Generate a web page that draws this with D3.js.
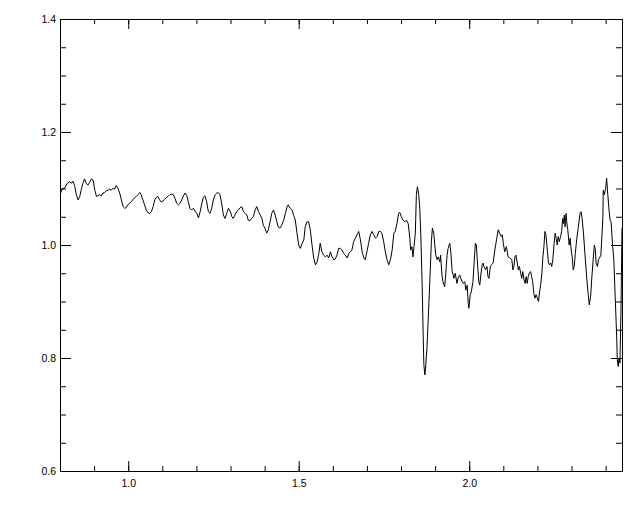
<!DOCTYPE html>
<html><head><meta charset="utf-8">
<script src="https://cdn.jsdelivr.net/npm/d3@7"></script>
<style>body{margin:0;background:#fff}svg{display:block}</style>
</head><body>
<script>
const wavelength = [0.802,0.806,0.814,0.821,0.828,0.833,0.838,0.843,0.848,0.853,0.858,0.863,0.867,0.872,0.877,0.882,0.887,0.892,0.897,0.902,0.907,0.911,0.916,0.921,0.926,0.931,0.936,0.941,0.946,0.950,0.955,0.960,0.965,0.970,0.975,0.980,0.985,0.990,0.994,0.999,1.004,1.009,1.014,1.019,1.024,1.029,1.034,1.038,1.043,1.048,1.053,1.058,1.063,1.068,1.073,1.078,1.082,1.087,1.092,1.097,1.102,1.107,1.112,1.117,1.122,1.126,1.131,
1.137,1.142,1.147,1.152,1.157,1.162,1.167,1.172,1.176,1.181,1.186,1.191,1.196,1.201,1.206,1.211,1.216,1.220,1.225,1.230,1.235,1.240,1.245,1.250,1.255,1.260,1.264,1.269,1.274,1.279,1.284,1.289,1.294,1.299,1.304,1.308,1.313,1.318,1.323,1.328,1.333,1.338,1.343,1.348,1.352,1.357,1.362,1.367,1.372,1.377,1.382,1.387,1.392,1.396,1.401,1.406,1.411,1.416,1.421,1.426,1.431,1.436,1.440,1.445,1.450,
1.456,1.461,1.466,1.469,1.475,1.480,1.485,1.490,1.495,1.500,1.505,1.510,1.515,1.519,1.524,1.529,1.534,1.539,1.544,1.549,1.554,1.559,1.563,1.568,1.573,1.578,1.583,1.588,1.593,1.598,1.603,1.607,1.612,1.617,1.622,1.627,1.632,1.637,1.642,1.647,1.651,1.656,1.661,1.666,1.671,1.676,1.681,1.686,1.691,1.695,1.700,1.705,1.710,1.715,1.720,1.725,1.730,1.735,1.739,1.744,1.749,1.754,1.759,1.764,1.769,1.774,1.779,1.783,1.788,1.793,
1.796,1.801,1.806,1.811,1.816,1.821,1.826,1.828,1.832,1.835,1.838,1.842,1.845,1.848,1.852,1.855,1.858,1.862,1.865,1.867,1.870,1.872,1.876,1.879,1.884,1.889,1.892,1.896,1.899,1.902,1.906,1.909,1.914,1.916,1.920,1.923,1.928,1.931,1.935,1.938,1.943,1.946,1.950,1.953,1.955,1.959,1.964,1.967,1.972,1.977,1.982,1.987,1.990,1.994,1.997,1.999,2.003,2.006,2.011,2.014,2.018,2.021,2.024,2.028,2.031,2.034,2.038,2.041,2.043,2.048,2.052,2.055,2.058,2.062,2.065,2.070,2.075,2.080,2.085,2.089,2.094,2.097,2.100,2.104,2.109,2.114,2.119,
2.125,2.128,2.131,2.134,2.137,2.141,2.144,2.147,2.151,2.154,2.157,2.161,2.164,2.167,2.170,2.173,2.176,2.180,2.183,2.186,2.190,2.193,2.196,2.200,2.203,2.206,2.210,2.213,2.216,2.219,2.222,2.225,2.229,2.232,2.235,2.239,2.242,2.245,2.249,2.252,2.255,2.258,2.261,2.264,2.268,2.271,2.274,2.276,2.279,2.281,2.284,2.286,2.289,2.293,2.296,2.299,2.302,2.305,2.308,2.311,2.315,2.320,2.325,2.328,2.331,2.335,2.340,2.345,2.349,2.352,2.356,2.359,2.364,2.367,2.370,2.372,2.376,2.379,2.382,2.386,2.389,2.392,2.393,2.396,2.400,2.403,2.406,2.410,2.413,2.416,2.420,2.424,2.428,2.431,2.433,2.434,2.437,2.439,2.442,2.445,2.448];
const flux = [1.092,1.099,1.101,1.109,1.112,1.109,1.113,1.105,1.089,1.080,1.086,1.100,1.109,1.117,1.109,1.106,1.111,1.117,1.115,1.097,1.086,1.087,1.089,1.087,1.092,1.093,1.096,1.097,1.099,1.097,1.100,1.099,1.105,1.100,1.092,1.080,1.068,1.065,1.066,1.071,1.074,1.077,1.080,1.084,1.086,1.089,1.093,1.089,1.080,1.071,1.062,1.057,1.056,1.059,1.068,1.080,1.084,1.086,1.080,1.076,1.078,1.081,1.084,1.086,1.089,1.090,1.090,
1.083,1.074,1.071,1.074,1.080,1.087,1.092,1.087,1.077,1.065,1.062,1.065,1.060,1.056,1.048,1.059,1.074,1.084,1.087,1.077,1.059,1.056,1.065,1.081,1.089,1.092,1.093,1.089,1.074,1.053,1.047,1.056,1.065,1.060,1.050,1.047,1.053,1.059,1.062,1.066,1.068,1.059,1.056,1.053,1.044,1.043,1.047,1.050,1.062,1.068,1.059,1.053,1.047,1.035,1.030,1.021,1.027,1.041,1.056,1.062,1.053,1.041,1.032,1.030,1.035,
1.044,1.056,1.068,1.071,1.065,1.062,1.053,1.044,1.021,1.000,0.994,1.003,1.009,1.032,1.041,1.041,1.027,1.000,0.977,0.965,0.970,0.985,1.003,0.988,0.982,0.979,0.982,0.977,0.988,0.979,0.974,0.975,0.982,0.994,0.994,0.991,0.985,0.982,0.977,0.985,0.988,0.991,1.006,1.012,1.018,1.024,1.009,0.988,0.977,0.974,0.988,1.003,1.018,1.024,1.018,1.012,1.015,1.024,1.024,1.021,1.006,0.988,0.974,0.965,0.974,0.991,1.021,1.024,1.038,1.056,
1.058,1.050,1.044,1.041,1.044,1.038,1.012,0.991,0.997,0.979,0.997,1.021,1.089,1.103,1.089,1.065,1.018,0.929,0.841,0.788,0.770,0.782,0.817,0.858,0.929,1.006,1.030,1.021,1.000,0.982,0.974,0.979,0.970,0.982,0.947,0.935,0.926,0.947,0.982,0.994,1.003,0.988,0.953,0.947,0.941,0.950,0.932,0.941,0.947,0.938,0.932,0.935,0.920,0.929,0.897,0.888,0.912,0.917,0.935,0.965,1.003,1.000,0.970,0.935,0.929,0.947,0.965,0.968,0.962,0.956,0.962,0.944,0.941,0.962,0.965,0.968,0.991,1.009,1.027,1.021,1.015,1.018,1.003,0.988,0.997,0.979,0.977,
0.974,0.956,0.962,0.979,0.982,0.968,0.956,0.962,0.950,0.941,0.953,0.938,0.932,0.944,0.932,0.944,0.950,0.953,0.944,0.935,0.912,0.906,0.912,0.906,0.900,0.915,0.932,0.950,0.979,0.997,1.024,1.018,0.991,0.970,0.965,0.968,0.962,0.974,1.003,1.021,1.012,1.000,1.015,1.006,1.015,1.024,1.047,1.038,1.053,1.032,1.056,1.041,1.027,1.000,1.012,0.991,0.979,0.956,0.962,0.985,1.009,1.032,1.056,1.059,1.047,1.021,0.979,0.938,0.912,0.894,0.909,0.938,0.979,1.000,0.991,0.968,0.962,0.974,0.977,0.982,1.015,1.050,1.097,1.089,1.100,1.118,1.092,1.062,1.044,1.041,1.003,0.974,0.909,0.861,0.826,0.797,0.785,0.800,0.791,0.885,1.030];

const yMajor = [0.6, 0.8, 1.0, 1.2, 1.4];
const yMinor = d3.range(0, 17).map(i => +(0.6 + i * 0.05).toFixed(2));
const xMajor = [1.0, 1.5, 2.0];
const xMinor = d3.range(0, 17).map(i => +(0.8 + i * 0.1).toFixed(1));

const W = 640, H = 512;
const mLeft = 60, mRight = 622, mTop = 19, mBottom = 471;

const svg = d3.select("body").append("svg").attr("width", W).attr("height", H)
  .style("font-family", "'Liberation Sans', Arial, sans-serif");

const x = d3.scaleLinear().domain([0.8, 2.448]).range([mLeft, mRight]);
const y = d3.scaleLinear().domain([0.6, 1.4]).range([mBottom, mTop]);

function styleAxis(g) {
  g.selectAll(".domain").remove();
  g.selectAll("line").attr("stroke", "#000").attr("stroke-width", 1);
  g.selectAll("text").attr("fill", "#000").style("font-size", "10.5px");
}

// minor ticks
svg.append("g").attr("transform", `translate(0,${mBottom})`)
  .call(d3.axisBottom(x).tickValues(xMinor).tickSize(-5).tickFormat("")).call(styleAxis);
svg.append("g").attr("transform", `translate(0,${mTop})`)
  .call(d3.axisTop(x).tickValues(xMinor).tickSize(-5).tickFormat("")).call(styleAxis);
svg.append("g").attr("transform", `translate(${mLeft},0)`)
  .call(d3.axisLeft(y).tickValues(yMinor).tickSize(-6).tickFormat("")).call(styleAxis);
svg.append("g").attr("transform", `translate(${mRight},0)`)
  .call(d3.axisRight(y).tickValues(yMinor).tickSize(-6).tickFormat("")).call(styleAxis);

// major ticks
svg.append("g").attr("transform", `translate(0,${mBottom})`)
  .call(d3.axisBottom(x).tickValues(xMajor).tickSize(-10).tickPadding(9).tickFormat(d3.format(".1f"))).call(styleAxis);
svg.append("g").attr("transform", `translate(0,${mTop})`)
  .call(d3.axisTop(x).tickValues(xMajor).tickSize(-10).tickFormat("")).call(styleAxis);
svg.append("g").attr("transform", `translate(${mLeft},0)`)
  .call(d3.axisLeft(y).tickValues(yMajor).tickSize(-11).tickPadding(4).tickFormat(d3.format(".1f"))).call(styleAxis);
svg.append("g").attr("transform", `translate(${mRight},0)`)
  .call(d3.axisRight(y).tickValues(yMajor).tickSize(-11).tickFormat("")).call(styleAxis);

// frame
svg.append("rect").attr("x", mLeft + 0.5).attr("y", mTop + 0.5)
  .attr("width", mRight - mLeft).attr("height", mBottom - mTop)
  .attr("fill", "none").attr("stroke", "#000").attr("stroke-width", 1);

// spectrum line
const pts = wavelength.map((w, i) => [w, flux[i]]);
svg.append("path").datum(pts)
  .attr("fill", "none").attr("stroke", "#000").attr("stroke-width", 1)
  .attr("d", d3.line().x(d => x(d[0])).y(d => y(d[1])));
</script>
</body></html>
